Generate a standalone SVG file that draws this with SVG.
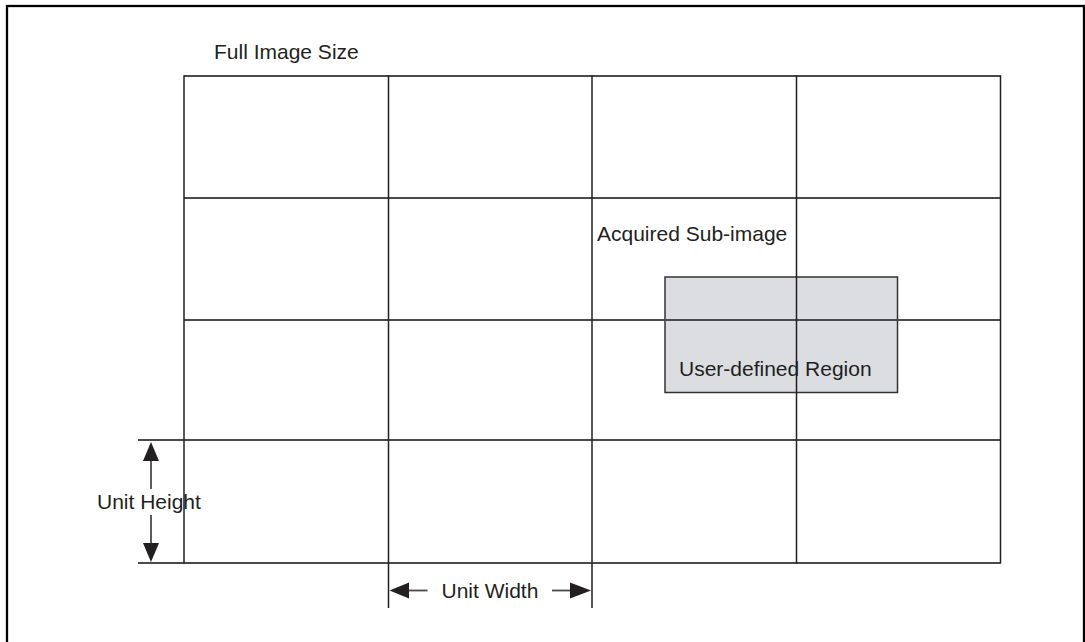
<svg xmlns="http://www.w3.org/2000/svg" width="1085" height="642" viewBox="0 0 1085 642">
<style>
.t{font-family:"Liberation Sans",Arial,sans-serif;font-size:21px;fill:#231f20}
.v{stroke:#231f20;stroke-width:1.5;fill:none}
.h{stroke:#4a4a4a;stroke-width:1.8;fill:none}
.ah{fill:#231f20;stroke:none}
</style>
<rect width="1085" height="642" fill="#fff"/>
<rect id="frame" x="7" y="6" width="1077" height="660" fill="none" stroke="#000" stroke-width="2.3"/>
<g id="region">
<rect x="665" y="277" width="232.5" height="115.5" fill="#dcdde0" stroke="#333" stroke-width="1.5"/>
</g>
<g id="grid">
<line class="h" x1="184" y1="76" x2="1000.5" y2="76"/>
<line class="h" x1="184" y1="198" x2="1000.5" y2="198"/>
<line class="h" x1="184" y1="320" x2="1000.5" y2="320"/>
<line class="h" x1="138" y1="440" x2="1000.5" y2="440"/>
<line class="h" x1="138" y1="563" x2="1000.5" y2="563"/>
<line class="v" x1="184" y1="75.3" x2="184" y2="563.5"/>
<line class="v" x1="388.5" y1="75.3" x2="388.5" y2="608"/>
<line class="v" x1="592" y1="75.3" x2="592" y2="608"/>
<line class="v" x1="796.5" y1="75.3" x2="796.5" y2="563.5"/>
<line class="v" x1="1000.5" y1="75.3" x2="1000.5" y2="563.5"/>
</g>
<g id="connectors">
<line class="h" x1="151" y1="460" x2="151" y2="489" stroke="#231f20"/>
<line class="h" x1="151" y1="515" x2="151" y2="544" stroke="#231f20"/>
<polygon class="ah" points="151,442 159,461 143,461"/>
<polygon class="ah" points="151,562 159,543 143,543"/>
<line class="h" x1="408" y1="590.5" x2="427.5" y2="590.5"/>
<line class="h" x1="552" y1="590.5" x2="571" y2="590.5"/>
<polygon class="ah" points="389.5,590.5 409,582.5 409,598.5"/>
<polygon class="ah" points="591,590.5 570,582.5 570,598.5"/>
</g>
<g id="labels">
<text class="t" x="214" y="59">Full Image Size</text>
<text class="t" x="597" y="241">Acquired Sub-image</text>
<text class="t" x="679" y="376">User-defined Region</text>
<text class="t" x="97" y="509">Unit Height</text>
<text class="t" x="441.5" y="598">Unit Width</text>
</g>
</svg>
